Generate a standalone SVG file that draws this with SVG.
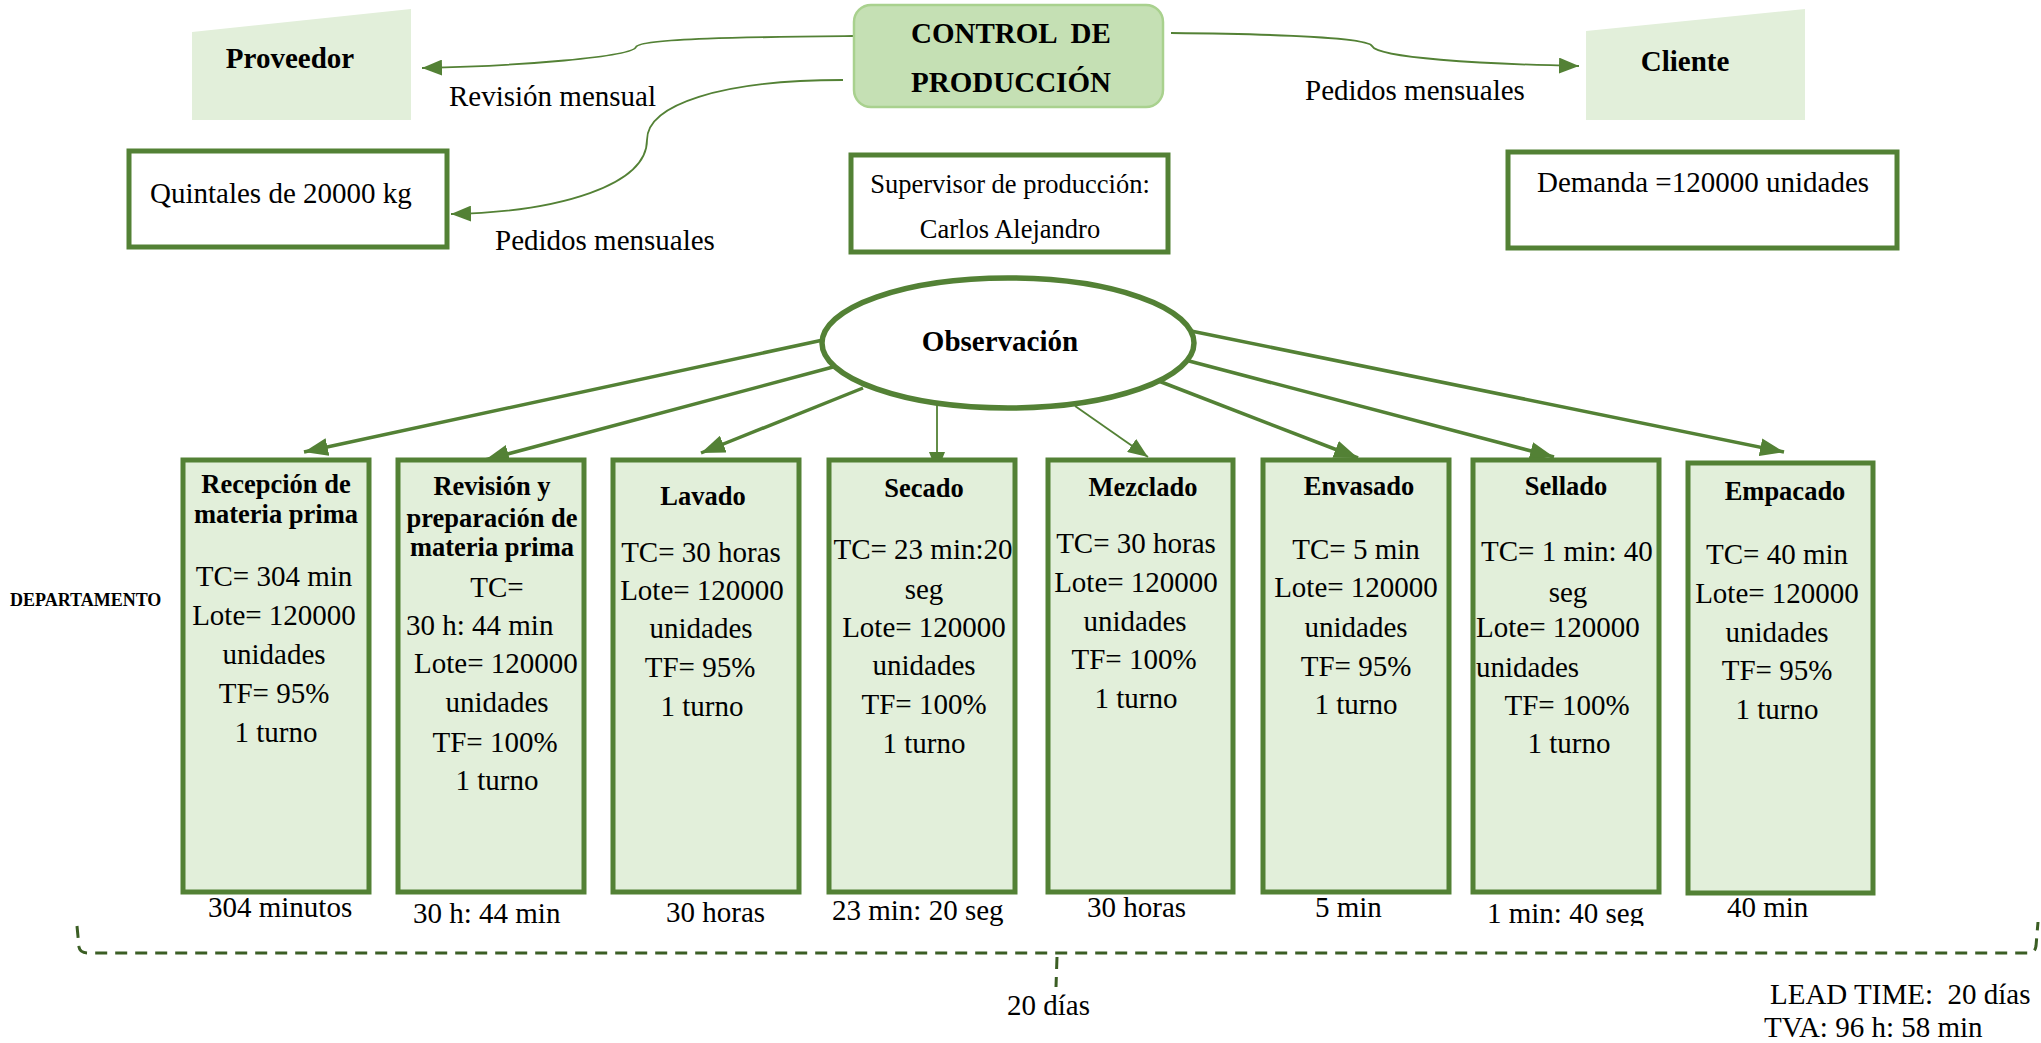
<svg xmlns="http://www.w3.org/2000/svg" width="2041" height="1043" viewBox="0 0 2041 1043">
  <style>
    .t { font-family: "Liberation Serif", "Times New Roman", serif; font-size: 29px; fill: #000; }
    .b { font-weight: bold; }
    .h { font-size: 26.5px; font-weight: bold; }
    .m { text-anchor: middle; }
    .sm { font-size: 26.5px; }
    .box { fill: #ffffff; stroke: #538135; stroke-width: 5; }
    .proc { fill: #e2efda; stroke: #538135; stroke-width: 5; }
    .ent { fill: #e2efda; stroke: none; }
    .link { fill: none; stroke: #538135; stroke-width: 3.5; }
    .thin { fill: none; stroke: #538135; stroke-width: 1.8; }
    .dash { fill: none; stroke: #3b5e24; stroke-width: 3; stroke-dasharray: 12 8; }
  </style>
  <defs>
    <marker id="ah" markerUnits="userSpaceOnUse" markerWidth="24" markerHeight="18" refX="24" refY="9" orient="auto">
      <path d="M0,0 L24,9 L0,18 Z" fill="#538135"/>
    </marker>
    <marker id="ahs" markerUnits="userSpaceOnUse" markerWidth="20" markerHeight="16" refX="20" refY="8" orient="auto">
      <path d="M0,0 L20,8 L0,16 Z" fill="#538135"/>
    </marker>
    <clipPath id="cutLow">
      <rect x="1400" y="880" width="300" height="46"/>
    </clipPath>
  </defs>

  <rect x="0" y="0" width="2041" height="1043" fill="#ffffff"/>

  <!-- connectors -->
  <g id="connectors">
    <path class="thin" d="M853,36 C760,37 640,38 636,47 C632,57 520,66 422,68" marker-end="url(#ahs)"/>
    <path class="thin" d="M843,80 C720,80 647,105 647,140 C647,185 560,212 451,214" marker-end="url(#ahs)"/>
    <path class="thin" d="M1171,33 C1280,34 1368,38 1372,46 C1378,58 1480,64 1579,66" marker-end="url(#ahs)"/>
    <path class="link" d="M823,340 L304,452" marker-end="url(#ah)"/>
    <path class="link" d="M833,367 L485,460" marker-end="url(#ah)"/>
    <path class="link" d="M863,388 L701,453" marker-end="url(#ah)"/>
    <path class="thin" d="M937,397 L937,472" marker-end="url(#ahs)"/>
    <path class="thin" d="M1075,406 L1148,457" marker-end="url(#ahs)"/>
    <path class="link" d="M1156,380 L1358,458" marker-end="url(#ah)"/>
    <path class="link" d="M1189,361 L1554,457" marker-end="url(#ah)"/>
    <path class="link" d="M1191,331 L1784,452" marker-end="url(#ah)"/>
    <!-- lead time brace -->
    <path class="dash" d="M77,926 L79,947 Q80,953 88,953 L2028,953 Q2035,953 2036,946 L2038,922"/>
    <path class="dash" d="M1057,957 L1056,987"/>
  </g>

  <!-- outside entities -->
  <g id="proveedor">
    <polygon class="ent" points="192,32 411,9 411,120 192,120"/>
    <text class="t b m" x="290" y="68">Proveedor</text>
  </g>
  <g id="cliente">
    <polygon class="ent" points="1586,31 1805,9 1805,120 1586,120"/>
    <text class="t b m" x="1685" y="71">Cliente</text>
  </g>

  <g id="control">
    <rect x="854" y="5" width="309" height="102" rx="17" fill="#c5e0b4" stroke="#a9d18e" stroke-width="2.5"/>
    <text class="t b m" x="1011" y="43" xml:space="preserve">CONTROL  DE</text>
    <text class="t b m" x="1011" y="92">PRODUCCIÓN</text>
  </g>

  <g id="labels-top">
    <text class="t" x="449" y="106">Revisión mensual</text>
    <text class="t" x="1305" y="100">Pedidos mensuales</text>
    <text class="t" x="495" y="250">Pedidos mensuales</text>
  </g>

  <g id="quintales">
    <rect class="box" x="129" y="151" width="318" height="96"/>
    <text class="t" x="150" y="203">Quintales de 20000 kg</text>
  </g>
  <g id="supervisor">
    <rect class="box" x="851" y="155" width="317" height="97"/>
    <text class="t sm m" x="1010" y="193">Supervisor de producción:</text>
    <text class="t sm m" x="1010" y="238">Carlos Alejandro</text>
  </g>
  <g id="demanda">
    <rect class="box" x="1508" y="152" width="389" height="96"/>
    <text class="t" x="1537" y="192">Demanda =120000 unidades</text>
  </g>

  <g id="observacion">
    <ellipse cx="1008" cy="343" rx="186" ry="65" fill="#ffffff" stroke="#538135" stroke-width="5.5"/>
    <text class="t b m" x="1000" y="351">Observación</text>
  </g>

  <text class="t b" x="10" y="606" style="font-size:18px">DEPARTAMENTO</text>

  <!-- process boxes -->
  <g id="recepcion">
    <rect class="proc" x="183" y="460" width="186" height="432"/>
    <text class="t h m" x="276" y="493">Recepción de</text>
    <text class="t h m" x="276" y="523">materia prima</text>
    <text class="t m" x="274" y="586">TC= 304 min</text>
    <text class="t m" x="274" y="625">Lote= 120000</text>
    <text class="t m" x="274" y="664">unidades</text>
    <text class="t m" x="274" y="703">TF= 95%</text>
    <text class="t m" x="276" y="742">1 turno</text>
  </g>
  <g id="revision">
    <rect class="proc" x="398" y="460" width="186" height="432"/>
    <text class="t h m" x="492" y="495">Revisión y</text>
    <text class="t h m" x="492" y="527">preparación de</text>
    <text class="t h m" x="492" y="556">materia prima</text>
    <text class="t m" x="497" y="597">TC=</text>
    <text class="t" x="406" y="635">30 h: 44 min</text>
    <text class="t" x="414" y="673">Lote= 120000</text>
    <text class="t m" x="497" y="712">unidades</text>
    <text class="t m" x="495" y="752">TF= 100%</text>
    <text class="t m" x="497" y="790">1 turno</text>
  </g>
  <g id="lavado">
    <rect class="proc" x="613" y="460" width="186" height="432"/>
    <text class="t h m" x="703" y="505">Lavado</text>
    <text class="t m" x="701" y="562">TC= 30 horas</text>
    <text class="t m" x="702" y="600">Lote= 120000</text>
    <text class="t m" x="701" y="638">unidades</text>
    <text class="t m" x="700" y="677">TF= 95%</text>
    <text class="t m" x="702" y="716">1 turno</text>
  </g>
  <g id="secado">
    <rect class="proc" x="829" y="460" width="186" height="432"/>
    <text class="t h m" x="924" y="497">Secado</text>
    <text class="t m" x="923" y="559">TC= 23 min:20</text>
    <text class="t m" x="924" y="599">seg</text>
    <text class="t m" x="924" y="637">Lote= 120000</text>
    <text class="t m" x="924" y="675">unidades</text>
    <text class="t m" x="924" y="714">TF= 100%</text>
    <text class="t m" x="924" y="753">1 turno</text>
  </g>
  <g id="mezclado">
    <rect class="proc" x="1048" y="460" width="185" height="432"/>
    <text class="t h m" x="1143" y="496">Mezclado</text>
    <text class="t m" x="1136" y="553">TC= 30 horas</text>
    <text class="t m" x="1136" y="592">Lote= 120000</text>
    <text class="t m" x="1135" y="631">unidades</text>
    <text class="t m" x="1134" y="669">TF= 100%</text>
    <text class="t m" x="1136" y="708">1 turno</text>
  </g>
  <g id="envasado">
    <rect class="proc" x="1263" y="460" width="186" height="432"/>
    <text class="t h m" x="1359" y="495">Envasado</text>
    <text class="t m" x="1356" y="559">TC= 5 min</text>
    <text class="t m" x="1356" y="597">Lote= 120000</text>
    <text class="t m" x="1356" y="637">unidades</text>
    <text class="t m" x="1356" y="676">TF= 95%</text>
    <text class="t m" x="1356" y="714">1 turno</text>
  </g>
  <g id="sellado">
    <rect class="proc" x="1473" y="460" width="186" height="432"/>
    <text class="t h m" x="1566" y="495">Sellado</text>
    <text class="t" x="1481" y="561">TC= 1 min: 40</text>
    <text class="t m" x="1568" y="602">seg</text>
    <text class="t" x="1476" y="637">Lote= 120000</text>
    <text class="t" x="1476" y="677">unidades</text>
    <text class="t m" x="1567" y="715">TF= 100%</text>
    <text class="t m" x="1569" y="753">1 turno</text>
  </g>
  <g id="empacado">
    <rect class="proc" x="1688" y="463" width="185" height="430"/>
    <text class="t h m" x="1785" y="500">Empacado</text>
    <text class="t m" x="1777" y="564">TC= 40 min</text>
    <text class="t m" x="1777" y="603">Lote= 120000</text>
    <text class="t m" x="1777" y="642">unidades</text>
    <text class="t m" x="1777" y="680">TF= 95%</text>
    <text class="t m" x="1777" y="719">1 turno</text>
  </g>

  <!-- times under each step -->
  <g id="timeline">
    <text class="t" x="208" y="917">304 minutos</text>
    <text class="t" x="413" y="923">30 h: 44 min</text>
    <text class="t" x="666" y="922">30 horas</text>
    <text class="t" x="832" y="920">23 min: 20 seg</text>
    <text class="t" x="1087" y="917">30 horas</text>
    <text class="t" x="1315" y="917">5 min</text>
    <text class="t" x="1487" y="923" clip-path="url(#cutLow)">1 min: 40 seg</text>
    <text class="t" x="1727" y="917">40 min</text>
    <text class="t" x="1007" y="1015">20 días</text>
    <text class="t" x="1770" y="1004" xml:space="preserve">LEAD TIME:  20 días</text>
    <text class="t" x="1764" y="1037">TVA: 96 h: 58 min</text>
  </g>
</svg>
